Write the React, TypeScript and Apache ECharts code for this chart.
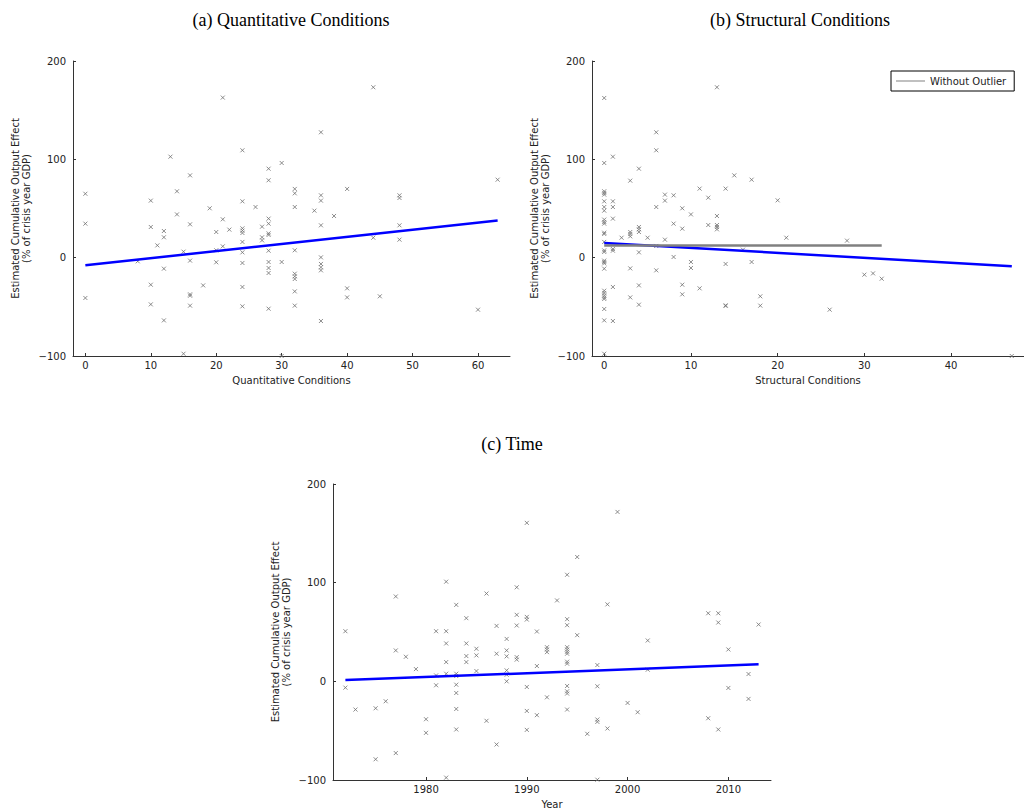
import React, { useEffect, useRef } from "react";
import * as echarts from "echarts";

// Panel (a): [quantitative conditions, estimated cumulative output effect]
const quantPoints: [number, number][] = [
  [0, 65], [0, 34.6], [0, -41], [8, -3.7],
  [10, 58], [10, 31.2], [10, -27.5], [10, -47.5], [11, 12.5],
  [12, 27.1], [12, 20.7], [12, -11.2], [12, -63.8], [13, 102.7],
  [14, 67.5], [14, 44], [15, 6.1], [15, -97.7],
  [16, 83.7], [16, 33.9], [16, -3], [16, -37.3], [16, -38.7], [16, -48.8],
  [18, -28.2], [19, 50.2], [20, 26.1], [20, 7.5], [20, -4.7],
  [21, 162.8], [21, 39], [21, 11.5], [22, 28.5],
  [24, 109.2], [24, 57.3], [24, 29.8], [24, 27.5], [24, 25.1], [24, 16], [24, 5.4], [24, -5.4], [24, -29.8], [24, -49.5],
  [26, 51.5], [27, 31.5], [27, 20.7], [27, 17.6],
  [28, 90.5], [28, 78.7], [28, 39.7], [28, 34.6], [28, 24.7], [28, 23.1], [28, 7.1], [28, -4.4], [28, -10.5], [28, -15.6], [28, -51.9],
  [30, 96.3], [30, -4.4], [30, -100],
  [32, 69.9], [32, 65.4], [32, 51.5], [32, 7.5], [32, -16.3], [32, -19], [32, -21.7], [32, -34.3], [32, -48.8],
  [35, 47.8],
  [36, 127.5], [36, 63.4], [36, 58], [36, 32.9], [36, 0.3], [36, -6.4], [36, -9.8], [36, -12.9], [36, -64.4],
  [38, 42.4], [40, 69.9], [40, -31.2], [40, -40.4],
  [44, 173.3], [44, 20.3], [45, -39.3],
  [48, 63.4], [48, 60.7], [48, 32.9], [48, 18.3],
  [60, -52.9], [63, 79.3],
];
const quantFit: [number, number][] = [[0, -7.8], [63, 37.9]];

// Panel (b): [structural conditions, effect]
const structPoints: [number, number][] = [
  [0, 162.4], [13, 173.3], [6, 127.5], [6, 109.2], [1, 102.7], [0, 96.3], [4, 90.5], [3, 78.3], [15, 83.7], [17, 79.3],
  [0, 67.5], [0, 65.8], [0, 64.1], [11, 70.2], [14, 70.2], [7, 64.1], [7, 58], [8, 63.4], [12, 61], [20, 58.3],
  [0, 57.3], [1, 57.3], [0, 51.5], [1, 51.5], [6, 51.5], [9, 50.2],
  [0, 47.8], [1, 39.7], [10, 44], [8, 34.6], [9, 29.5], [12, 33.2], [13, 42.4], [13, 33.2], [13, 31.2], [13, 28.8],
  [0, 38.7], [0, 36.3], [0, 34.6], [0, 25.4], [0, 24.1], [3, 26.1], [3, 24.1], [3, 21.7], [4, 31.2], [4, 28.8], [4, 26.1],
  [2, 20.3], [5, 20.3], [7, 18.3], [21, 20.3], [28, 17.3], [0, 16], [0, 7.4], [0, 5.8], [1, 8.8], [1, 7.1], [4, 5.4], [6, 11.9], [16, 8.1], [8, 0.7],
  [0, -3], [0, -4.4], [0, -5.8], [10, -4.4], [10, -10.5], [14, -6.4], [17, -4.4], [0, -11.2], [3, -10.9], [6, -12.9],
  [30, -17.3], [31, -16], [32, -21.4],
  [1, -29.8], [4, -28.2], [9, -27.5], [11, -31.2], [3, -40.4], [9, -37.3],
  [0, -33.6], [0, -35.9], [0, -38.4], [0, -40.4], [0, -42],
  [4, -47.8], [14, -49.1], [14, -48.5], [18, -39.3], [18, -48.8],
  [0, -52.2], [0, -63.8], [1, -64.4], [26, -52.9], [0, -97.7], [47, -100],
];
const structFit: [number, number][] = [[0, 15], [47, -8.8]];
const structFitNoOutlier: [number, number][] = [[0, 12.5], [32, 12.5]];

// Panel (c): [year, effect]
const yearPoints: [number, number][] = [
  [1982, 101], [1977, 86], [1972, 50.8], [1981, 50.8], [1982, 50.8], [1983, 77.5], [1984, 64], [1986, 89], [1987, 56.2], [1988, 43],
  [1989, 95.3], [1989, 67.4], [1989, 56.6], [1982, 38.4], [1984, 38.4],
  [1999, 171.7], [1990, 160.6], [1995, 126], [1994, 108], [1993, 82], [1998, 78], [1990, 65.3], [1990, 62.6], [1994, 63], [1994, 56.9],
  [1991, 50.5], [1995, 46.8], [2002, 41.4], [2008, 69], [2009, 69], [2009, 59.6], [2013, 57.6],
  [1977, 31.3], [1978, 24.9], [1979, 12.4], [1981, 6], [1982, 19.5], [1982, 7.7], [1983, 7.7], [1983, 5.4], [1983, -3.4], [1983, -11.8], [1983, -28], [1983, -48.8],
  [1984, 25.6], [1984, 19.5], [1985, 33], [1985, 26.3], [1985, 10.4], [1981, -4], [1972, -6.4], [1973, -28.6], [1975, -27.3], [1976, -20.2],
  [1980, -38.4], [1980, -52.2], [1986, -40], [1987, -64], [1975, -79], [1977, -72.7], [1982, -97.6],
  [1987, 28], [1988, 31.3], [1988, 25.3], [1988, 11.1], [1988, 6.7], [1988, 0], [1989, 24.5], [1989, 22],
  [1992, 34.6], [1992, 32.3], [1992, 29.6], [1994, 34.6], [1994, 32.3], [1994, 30], [1994, 28], [1994, 19.9], [1994, 17.9],
  [1991, 15.5], [1997, 16.5], [2002, 11.8], [2010, 32.3], [2012, 7.4],
  [1990, -5.7], [1994, -4.7], [1994, -10.1], [1994, -12.4], [1997, -5], [2010, -6.7], [1992, -16.2], [2012, -17.8], [2000, -21.9], [2001, -31.3],
  [1990, -30], [1991, -34.3], [1994, -28.6], [1997, -38.7], [1997, -41.1], [2008, -37.4], [1990, -49.2], [1998, -47.8], [2009, -48.8], [1996, -53.2], [1997, -99.7],
];
const yearFit: [number, number][] = [[1972, 1.3], [2013, 17.2]];

const titles = ["(a) Quantitative Conditions", "(b) Structural Conditions", "(c) Time"];
const xNames = ["Quantitative Conditions", "Structural Conditions", "Year"];
const yName = "Estimated Cumulative Output Effect\n(% of crisis year GDP)";
const quantTicks = [0, 10, 20, 30, 40, 50, 60];
const structTicks = [0, 10, 20, 30, 40];
const yearTicks = [1980, 1990, 2000, 2010];
const legendLabel = "Without Outlier";

const SANS = "DejaVu Sans";
const SERIF = "Liberation Serif";
const AXIS_COLOR = "#333";
const MARK = "path://M0,0L10,10M10,0L0,10";

function xAxisOf(grid: number, min: number, max: number, ticks: number[], name: string) {
  return {
    type: "value",
    gridIndex: grid,
    min,
    max,
    name,
    nameLocation: "middle",
    nameGap: 19,
    nameTextStyle: { fontFamily: SANS, fontSize: 10, color: "#222" },
    axisLine: { show: true, onZero: false, lineStyle: { color: AXIS_COLOR, width: 1 } },
    axisTick: { show: true, inside: true, length: 3, customValues: ticks, lineStyle: { color: AXIS_COLOR } },
    axisLabel: {
      customValues: ticks,
      margin: 4,
      fontFamily: SANS,
      fontSize: 10,
      color: "#222",
      formatter: (v: number) => String(v),
    },
    splitLine: { show: false },
  };
}

function yAxisOf(grid: number) {
  return {
    type: "value",
    gridIndex: grid,
    min: -100,
    max: 200,
    interval: 100,
    name: yName,
    nameLocation: "middle",
    nameRotate: 90,
    nameGap: 41,
    nameTextStyle: { fontFamily: SANS, fontSize: 10, color: "#222", lineHeight: 11 },
    axisLine: { show: true, onZero: false, lineStyle: { color: AXIS_COLOR, width: 1 } },
    axisTick: { show: true, inside: true, length: 3, lineStyle: { color: AXIS_COLOR } },
    axisLabel: {
      margin: 7,
      fontFamily: SANS,
      fontSize: 10,
      color: "#222",
      formatter: (v: number) => String(v).replace("-", "\u2212"),
    },
    splitLine: { show: false },
  };
}

function scatterOf(idx: number, data: [number, number][]) {
  return {
    type: "scatter",
    xAxisIndex: idx,
    yAxisIndex: idx,
    data,
    symbol: MARK,
    symbolSize: 4,
    clip: false,
    itemStyle: { color: "transparent", borderColor: "#707070", borderWidth: 1 },
    z: 2,
  };
}

function lineOf(idx: number, data: [number, number][], color: string, name?: string, z = 3) {
  return {
    type: "line",
    name,
    xAxisIndex: idx,
    yAxisIndex: idx,
    data,
    symbol: "none",
    lineStyle: { color, width: 2.5 },
    itemStyle: { color },
    z,
  };
}

const titleStyle = { fontFamily: SERIF, fontSize: 18, fontWeight: "normal", color: "#000" };

export default function App() {
  const ref = useRef<HTMLDivElement>(null);
  useEffect(() => {
    if (!ref.current) return;
    const chart = echarts.init(ref.current, null, { renderer: "svg" });
    chart.setOption({
      animation: false,
      backgroundColor: "#fff",
      title: [
        { text: titles[0], left: 291, top: 11, textAlign: "center", padding: 0, textStyle: titleStyle },
        { text: titles[1], left: 800, top: 11, textAlign: "center", padding: 0, textStyle: titleStyle },
        { text: titles[2], left: 512, top: 435, textAlign: "center", padding: 0, textStyle: titleStyle },
      ],
      legend: {
        data: [{ name: legendLabel, icon: "rect" }],
        left: 891,
        top: 71,
        orient: "horizontal",
        borderColor: "#000",
        borderWidth: 1,
        padding: [5, 8, 5, 5],
        itemWidth: 29,
        itemHeight: 1,
        itemGap: 5,
        textStyle: { fontFamily: SANS, fontSize: 10, color: "#222" },
        backgroundColor: "#fff",
      },
      grid: [
        { left: 73, top: 61, width: 437, height: 295 },
        { left: 592, top: 61, width: 440, height: 295 },
        { left: 333, top: 484, width: 438, height: 296 },
      ],
      xAxis: [
        xAxisOf(0, -1.89, 64.89, quantTicks, xNames[0]),
        xAxisOf(1, -1.41, 48.41, structTicks, xNames[1]),
        xAxisOf(2, 1970.77, 2014.23, yearTicks, xNames[2]),
      ],
      yAxis: [yAxisOf(0), yAxisOf(1), yAxisOf(2)],
      series: [
        scatterOf(0, quantPoints),
        lineOf(0, quantFit, "#0000ff"),
        scatterOf(1, structPoints),
        lineOf(1, structFit, "#0000ff"),
        lineOf(1, structFitNoOutlier, "#808080", legendLabel, 4),
        scatterOf(2, yearPoints),
        lineOf(2, yearFit, "#0000ff"),
      ],
    });
    return () => chart.dispose();
  }, []);
  return (
    <div
      ref={ref}
      style={{ position: "absolute", left: 0, top: 0, width: 1024, height: 811, overflow: "hidden" }}
    />
  );
}
